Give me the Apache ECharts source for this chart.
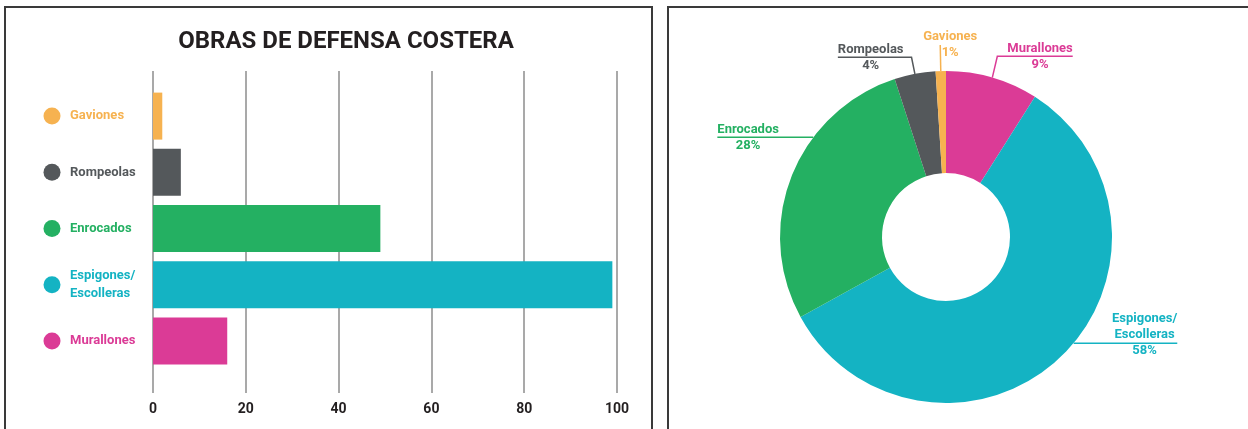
<!DOCTYPE html>
<html>
<head>
<meta charset="utf-8">
<script src="https://cdn.jsdelivr.net/npm/echarts@6/dist/echarts.min.js"></script>
<style>
  html, body { margin: 0; padding: 0; background: #fff; }
  #main { width: 1248px; height: 429px; }
</style>
</head>
<body>
<div id="main"></div>
<script>
// data
const categories = ['Gaviones', 'Rompeolas', 'Enrocados', 'Espigones/\nEscolleras', 'Murallones']
const barValues = [2, 6, 49, 99, 16]
const xTicks = [0, 20, 40, 60, 80, 100]
// donut, clockwise from 12 o'clock
const pieNames = ['Murallones', 'Espigones/\nEscolleras', 'Enrocados', 'Rompeolas', 'Gaviones']
const piePercent = [9, 58, 28, 4, 1]

const colorOf = {
  'Gaviones': '#f6b250',
  'Rompeolas': '#54585b',
  'Enrocados': '#24b062',
  'Espigones/\nEscolleras': '#14b3c3',
  'Murallones': '#db3b96'
}
const FONT = "Roboto, 'Noto Sans', sans-serif"
const PIE_CX = 946
const PIE_CY = 237
const PIE_R = 166

// nudges for the donut labels (offset from where echarts puts them)
// edge: line starts at the ring edge, level with the label
// under: where the line sits below the label centre
const labelTweak = {
  'Murallones': { dx: 1, dy: -4, edge: false, under: 0 },
  'Espigones/\nEscolleras': { dx: 31, dy: -36, edge: true, under: 8 },
  'Enrocados': { dx: 13, dy: -32, edge: true, under: 0 },
  'Rompeolas': { dx: 1, dy: 1, edge: false, under: 0 },
  'Gaviones': { dx: 46, dy: -8, edge: false, under: 0, noUnderline: true }
}

const main = document.getElementById('main')
let myChart = echarts.init(main)

myChart.setOption({
  animation: false,
  textStyle: { fontFamily: FONT },
  title: {
    text: 'OBRAS DE DEFENSA COSTERA',
    left: 341,
    top: 25,
    textAlign: 'center',
    textStyle: { fontFamily: FONT, fontSize: 24, fontWeight: 'bold', color: '#231f20' }
  },
  graphic: [
    { type: 'rect', silent: true, shape: { x: 5, y: 7, width: 647, height: 440 },
      style: { fill: 'none', stroke: '#3a3a3a', lineWidth: 2 } },
    { type: 'rect', silent: true, shape: { x: 668, y: 7, width: 620, height: 440 },
      style: { fill: 'none', stroke: '#3a3a3a', lineWidth: 2 } }
  ],
  grid: [
    { left: 153, width: 464, top: 71, height: 322 },  // vertical grid lines + ticks
    { left: 153, width: 464, top: 88, height: 281 },  // bars
    { left: 40, width: 24, top: 88, height: 281 }     // coloured dots
  ],
  xAxis: [
    {
      gridIndex: 0, type: 'value',
      min: xTicks[0], max: xTicks[xTicks.length - 1], interval: xTicks[1] - xTicks[0],
      axisLine: { show: false }, axisTick: { show: false },
      splitLine: { show: true, lineStyle: { color: '#8c8c8c', width: 1.5 } },
      axisLabel: { color: '#231f20', fontSize: 14, fontWeight: 'bold', margin: 9, fontFamily: FONT }
    },
    { gridIndex: 1, type: 'value', min: xTicks[0], max: xTicks[xTicks.length - 1], show: false },
    { gridIndex: 2, type: 'value', min: -1, max: 1, show: false }
  ],
  yAxis: [
    { gridIndex: 0, type: 'category', data: categories, show: false },
    {
      gridIndex: 1, type: 'category', data: categories, inverse: true,
      axisLine: { show: false }, axisTick: { show: false },
      axisLabel: {
        align: 'left', margin: 83, fontSize: 13, fontWeight: 'bold', lineHeight: 18,
        fontFamily: FONT,
        color: (v) => colorOf[v]
      }
    },
    { gridIndex: 2, type: 'category', data: categories, inverse: true, show: false }
  ],
  series: [
    {
      type: 'bar', xAxisIndex: 1, yAxisIndex: 1, barWidth: 47,
      data: barValues.map((v, i) => ({ value: v, itemStyle: { color: colorOf[categories[i]] } }))
    },
    {
      type: 'scatter', xAxisIndex: 2, yAxisIndex: 2, symbolSize: 17,
      data: categories.map((c, i) => ({ value: [0, i], itemStyle: { color: colorOf[c], opacity: 1 } }))
    },
    {
      type: 'pie',
      center: [PIE_CX, PIE_CY],
      radius: [64, PIE_R],
      startAngle: 90,
      avoidLabelOverlap: false,
      data: pieNames.map((n, i) => ({
        name: n, value: piePercent[i],
        itemStyle: { color: colorOf[n] },
        label: { color: colorOf[n] },
        labelLine: { lineStyle: { color: colorOf[n] } }
      })),
      label: {
        formatter: '{b}\n{c}%', fontSize: 13, fontWeight: 'bold', lineHeight: 16,
        fontFamily: FONT
      },
      labelLine: { length: 18, length2: 4, lineStyle: { width: 1.5 } },
      labelLayout: function (params) {
        const pts = params.labelLinePoints
        const r = params.labelRect
        const name = pieNames[params.dataIndex]
        const t = labelTweak[name]
        const cx = r.x + r.width / 2 + t.dx
        const cy = r.y + r.height / 2 + t.dy
        const out = { x: cx, y: cy, align: 'center', verticalAlign: 'middle' }
        if (!pts) return out
        const lineY = cy + t.under
        const isLeft = cx < PIE_CX
        let p0 = pts[0]
        let p1 = [pts[1][0], lineY]
        if (t.edge) {
          const h = Math.sqrt(Math.max(0, PIE_R * PIE_R - (lineY - PIE_CY) * (lineY - PIE_CY)))
          p1 = [PIE_CX + (isLeft ? -h : h), lineY]
          p0 = p1
        }
        const p2 = t.noUnderline ? p1 : [isLeft ? cx - r.width / 2 : cx + r.width / 2, lineY]
        out.labelLinePoints = [p0, p1, p2]
        return out
      }
    }
  ]
})
</script>
</body>
</html>
